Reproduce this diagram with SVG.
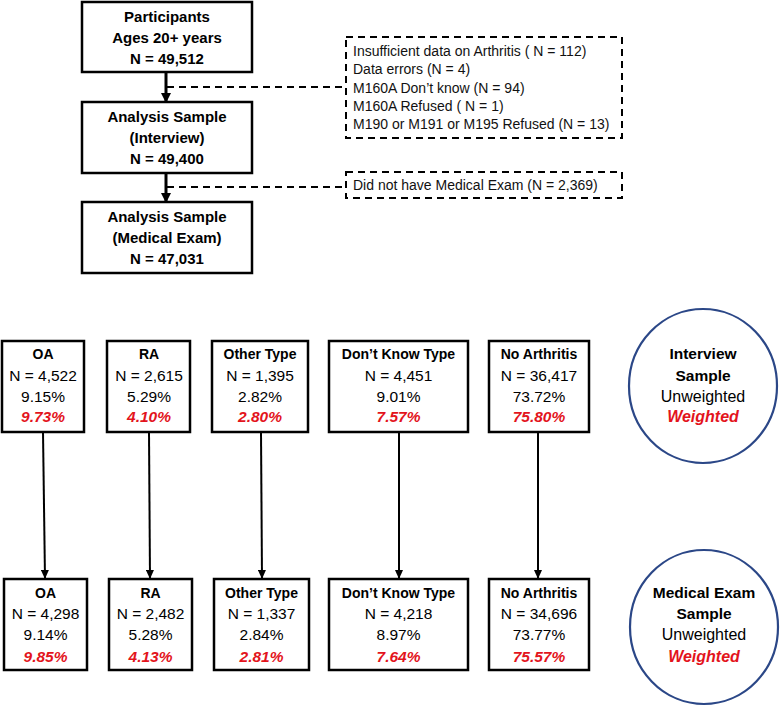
<svg xmlns="http://www.w3.org/2000/svg" width="780" height="707" viewBox="0 0 780 707">
<defs>
<marker id="ah" markerWidth="10" markerHeight="10" refX="9" refY="5" orient="auto" markerUnits="userSpaceOnUse">
<path d="M0,0 L10,5 L0,10 Z" fill="#000"/>
</marker>
<marker id="ah2" markerWidth="9" markerHeight="8" refX="9" refY="4" orient="auto" markerUnits="userSpaceOnUse">
<path d="M0,0 L9,4 L0,8 Z" fill="#000"/>
</marker>
<style>
.box{fill:#fff;stroke:#000;stroke-width:2.5}
.dbox{fill:#fff;stroke:#000;stroke-width:2;stroke-dasharray:7,5}
.circ{fill:#fff;stroke:#2b4787;stroke-width:2.2}
text{font-family:"Liberation Sans",Arial,sans-serif;fill:#000}
.hb{font-size:15px;font-weight:bold;text-anchor:middle}
.cb{font-size:14px;font-weight:bold;text-anchor:middle}
.cv{font-size:15.5px;text-anchor:middle}
.cr{font-size:15.5px;font-weight:bold;font-style:italic;text-anchor:middle;fill:#e3141c}
.ob{font-size:15.5px;font-weight:bold;text-anchor:middle}
.ov{font-size:16px;text-anchor:middle}
.or{font-size:16px;font-weight:bold;font-style:italic;text-anchor:middle;fill:#e3141c}
.dt{font-size:14px;fill:#111}
.conn{stroke:#000;stroke-width:2;fill:none}
.thick{stroke:#000;stroke-width:3;fill:none}
.dash{stroke:#000;stroke-width:2;stroke-dasharray:7,5;fill:none}
</style>
</defs>
<rect width="780" height="707" fill="#fff"/>

<g id="connectors">
<line class="thick" x1="166" y1="72" x2="166" y2="102" marker-end="url(#ah)"/>
<line class="thick" x1="166" y1="173" x2="166" y2="202" marker-end="url(#ah)"/>
<line class="dash" x1="167" y1="87" x2="346" y2="87"/>
<line class="dash" x1="167" y1="187" x2="346" y2="187"/>
<line class="conn" x1="43" y1="432" x2="45" y2="579" marker-end="url(#ah2)"/>
<line class="conn" x1="149" y1="432" x2="150" y2="579" marker-end="url(#ah2)"/>
<line class="conn" x1="261" y1="432" x2="262" y2="579" marker-end="url(#ah2)"/>
<line class="conn" x1="399" y1="432" x2="399" y2="579" marker-end="url(#ah2)"/>
<line class="conn" x1="538" y1="432" x2="538" y2="579" marker-end="url(#ah2)"/>
</g>

<g id="participants">
<rect class="box" x="82" y="2" width="170" height="70"/>
<text class="hb" x="167" y="22">Participants</text>
<text class="hb" x="167" y="43">Ages 20+ years</text>
<text class="hb" x="167" y="64">N = 49,512</text>
</g>
<g id="interview-sample">
<rect class="box" x="82" y="102" width="170" height="71"/>
<text class="hb" x="167" y="122">Analysis Sample</text>
<text class="hb" x="167" y="143">(Interview)</text>
<text class="hb" x="167" y="164">N = 49,400</text>
</g>
<g id="exam-sample">
<rect class="box" x="82" y="202" width="170" height="71"/>
<text class="hb" x="167" y="222">Analysis Sample</text>
<text class="hb" x="167" y="243">(Medical Exam)</text>
<text class="hb" x="167" y="264">N = 47,031</text>
</g>

<g id="exclusions1">
<rect class="dbox" x="346" y="37" width="276" height="101"/>
<text class="dt" x="353" y="56">Insufficient data on Arthritis ( N = 112)</text>
<text class="dt" x="353" y="74">Data errors (N = 4)</text>
<text class="dt" x="353" y="93">M160A Don’t know (N = 94)</text>
<text class="dt" x="353" y="111">M160A Refused ( N = 1)</text>
<text class="dt" x="353" y="129">M190 or M191 or M195 Refused (N = 13)</text>
</g>
<g id="exclusions2">
<rect class="dbox" x="346" y="172" width="276" height="26"/>
<text class="dt" x="353" y="190">Did not have Medical Exam (N = 2,369)</text>
</g>

<g id="i-oa">
<rect class="box" x="2" y="341" width="82" height="91"/>
<text class="cb" x="43" y="359">OA</text>
<text class="cv" x="43" y="381">N = 4,522</text>
<text class="cv" x="43" y="402">9.15%</text>
<text class="cr" x="43" y="422">9.73%</text>
</g>
<g id="i-ra">
<rect class="box" x="107" y="341" width="83" height="91"/>
<text class="cb" x="149" y="359">RA</text>
<text class="cv" x="149" y="381">N = 2,615</text>
<text class="cv" x="149" y="402">5.29%</text>
<text class="cr" x="149" y="422">4.10%</text>
</g>
<g id="i-other">
<rect class="box" x="212" y="341" width="96" height="91"/>
<text class="cb" x="260" y="359">Other Type</text>
<text class="cv" x="260" y="381">N = 1,395</text>
<text class="cv" x="260" y="402">2.82%</text>
<text class="cr" x="260" y="422">2.80%</text>
</g>
<g id="i-dk">
<rect class="box" x="329" y="341" width="139" height="91"/>
<text class="cb" x="398.5" y="359">Don’t Know Type</text>
<text class="cv" x="398.5" y="381">N = 4,451</text>
<text class="cv" x="398.5" y="402">9.01%</text>
<text class="cr" x="398.5" y="422">7.57%</text>
</g>
<g id="i-no">
<rect class="box" x="489" y="341" width="100" height="91"/>
<text class="cb" x="539" y="359">No Arthritis</text>
<text class="cv" x="539" y="381">N = 36,417</text>
<text class="cv" x="539" y="402">73.72%</text>
<text class="cr" x="539" y="422">75.80%</text>
</g>
<g id="i-legend">
<ellipse class="circ" cx="703" cy="386" rx="74" ry="77"/>
<text class="ob" x="703" y="359">Interview</text>
<text class="ob" x="703" y="381">Sample</text>
<text class="ov" x="703" y="402">Unweighted</text>
<text class="or" x="703" y="422">Weighted</text>
</g>

<g id="m-oa">
<rect class="box" x="4" y="579" width="83" height="91"/>
<text class="cb" x="45.5" y="598">OA</text>
<text class="cv" x="45.5" y="619">N = 4,298</text>
<text class="cv" x="45.5" y="640">9.14%</text>
<text class="cr" x="45.5" y="662">9.85%</text>
</g>
<g id="m-ra">
<rect class="box" x="109" y="579" width="83" height="91"/>
<text class="cb" x="150.5" y="598">RA</text>
<text class="cv" x="150.5" y="619">N = 2,482</text>
<text class="cv" x="150.5" y="640">5.28%</text>
<text class="cr" x="150.5" y="662">4.13%</text>
</g>
<g id="m-other">
<rect class="box" x="214" y="579" width="95" height="91"/>
<text class="cb" x="261.5" y="598">Other Type</text>
<text class="cv" x="261.5" y="619">N = 1,337</text>
<text class="cv" x="261.5" y="640">2.84%</text>
<text class="cr" x="261.5" y="662">2.81%</text>
</g>
<g id="m-dk">
<rect class="box" x="329" y="579" width="139" height="91"/>
<text class="cb" x="398.5" y="598">Don’t Know Type</text>
<text class="cv" x="398.5" y="619">N = 4,218</text>
<text class="cv" x="398.5" y="640">8.97%</text>
<text class="cr" x="398.5" y="662">7.64%</text>
</g>
<g id="m-no">
<rect class="box" x="489" y="579" width="100" height="91"/>
<text class="cb" x="539" y="598">No Arthritis</text>
<text class="cv" x="539" y="619">N = 34,696</text>
<text class="cv" x="539" y="640">73.77%</text>
<text class="cr" x="539" y="662">75.57%</text>
</g>
<g id="m-legend">
<ellipse class="circ" cx="704" cy="627" rx="74" ry="77"/>
<text class="ob" x="704" y="598">Medical Exam</text>
<text class="ob" x="704" y="619">Sample</text>
<text class="ov" x="704" y="640">Unweighted</text>
<text class="or" x="704" y="662">Weighted</text>
</g>
</svg>
